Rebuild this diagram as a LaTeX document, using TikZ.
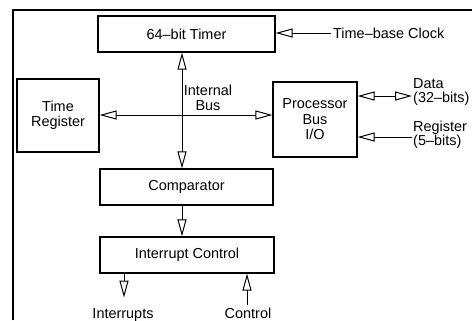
\documentclass[tikz,border=0pt]{standalone}
\usepackage{fontspec}
\setmainfont{Liberation Sans}
\usepackage{tikz}
\usetikzlibrary{positioning,arrows.meta,calc}
\tikzset{
    block/.style={rectangle, draw, line width=1.2bp, inner sep=0pt, align=center, font=\fontsize{14.5}{15.5}\selectfont},
    tag/.style={inner sep=2bp, align=left, font=\fontsize{14.5}{12.5}\selectfont},
    arrow/.style={-{Triangle[open, length=17bp, width=9bp, line width=1bp]}, line width=1bp},
    biarrow/.style={{Triangle[open, length=17bp, width=9bp, line width=1bp]}-{Triangle[open, length=17bp, width=9bp, line width=1bp]}, line width=1bp}
}

\begin{document}
\begin{tikzpicture}[x=1bp, y=-1bp]
\useasboundingbox (0,0) rectangle (472,320);

% Frame (cut at right and bottom)
\draw[line width=1.3bp] (13,320) -- (13,10) -- (472,10);

% Blocks
\node[block, minimum width=177bp, minimum height=36bp] (timer) at (186.5,34) {64--bit Timer};
\node[block, minimum width=82bp, minimum height=73bp] (treg) at (58,115.5) {Time\\Register};
\node[block, minimum width=84bp, minimum height=75bp] (pbio) at (315,119.5) {Processor\\Bus\\I/O};
\node[block, minimum width=173bp, minimum height=36bp] (comp) at (186.5,187) {Comparator};
\node[block, minimum width=174bp, minimum height=36bp] (intc) at (187,255) {Interrupt Control};

% Internal bus
\coordinate (bus) at (182,115);
\draw[biarrow] (bus |- timer.south) -- (bus |- comp.north);
\draw[biarrow] (treg.east |- bus) -- (pbio.west |- bus);
\node[tag, align=center, font=\fontsize{14.5}{15}\selectfont] (ibus) at (208,98) {Internal\\Bus};

% Outside signals
\node[tag, anchor=west] (clock) at (331,33) {Time--base Clock};
\draw[arrow] (clock.west) -- (timer.east |- clock.west);

\node[tag, anchor=west, font=\fontsize{14.5}{13.5}\selectfont] (data) at (411,92) {Data\\(32--bits)};
\coordinate (dataend) at (412,96);
\draw[biarrow] (pbio.east |- dataend) -- (dataend);

\node[tag, anchor=west] (regsel) at (411,135) {Register\\(5--bits)};
\coordinate (regend) at (412,137);
\draw[arrow] (regend) -- (pbio.east |- regend);

% Down the chain
\draw[arrow] (comp.south -| bus) -- (intc.north -| bus);
\node[tag, anchor=base] (irq) at (123,318) {Interrupts};
\node[tag, anchor=base] (ctrl) at (248,318) {Control};
\draw[arrow] (intc.south -| 124,0) -- ++(0,24);
\draw[arrow] (ctrl.north -| 247,0) -- (intc.south -| 247,0);

\end{tikzpicture}
\end{document}
